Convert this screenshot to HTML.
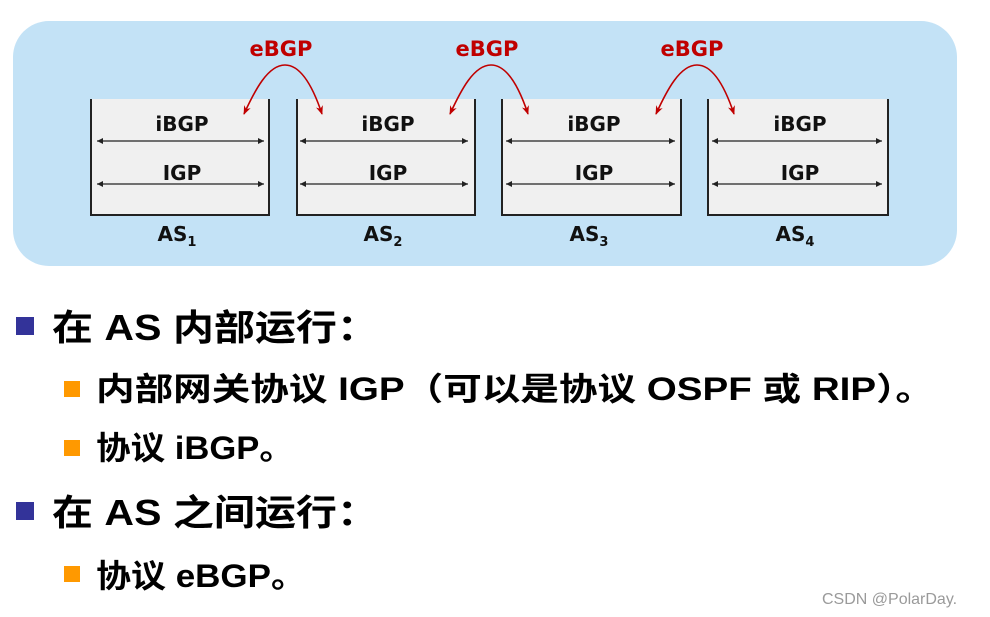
<!DOCTYPE html>
<html><head><meta charset="utf-8"><style>
html,body{margin:0;padding:0;background:#fff;width:990px;height:617px;overflow:hidden}
svg{display:block}
</style></head><body>
<svg width="990" height="617" viewBox="0 0 990 617" xmlns="http://www.w3.org/2000/svg">
<defs>
<marker id="ah" viewBox="0 0 10 10" refX="10" refY="5" markerWidth="8" markerHeight="6" orient="auto-start-reverse" markerUnits="userSpaceOnUse"><path d="M0,0 L10,5 L0,10 z" fill="#222"/></marker>
<marker id="rh" viewBox="0 0 10 10" refX="9" refY="5" markerWidth="9" markerHeight="9" orient="auto" markerUnits="userSpaceOnUse"><path d="M0,1 L10,5 L0,9 L3,5 z" fill="#c00000"/></marker>
</defs>
<rect x="13" y="21" width="944" height="245" rx="36" fill="#c3e2f6"/>
<g font-family="'DejaVu Sans','Liberation Sans',sans-serif" font-weight="bold" font-size="20" fill="#111" text-anchor="middle">
<g id="b1">
</g>
</g>
<!-- boxes -->
<g stroke="#222" stroke-width="2" fill="#f0f0f0">
<path d="M91,99 V215 H269 V99"/>
<path d="M297,99 V215 H475 V99"/>
<path d="M502,99 V215 H681 V99"/>
<path d="M708,99 V215 H888 V99"/>
</g>
<g stroke="#222" stroke-width="1.2" marker-start="url(#ah)" marker-end="url(#ah)">
<line x1="97" y1="141" x2="264" y2="141"/><line x1="97" y1="184" x2="264" y2="184"/>
<line x1="300" y1="141" x2="468" y2="141"/><line x1="300" y1="184" x2="468" y2="184"/>
<line x1="506" y1="141" x2="675" y2="141"/><line x1="506" y1="184" x2="675" y2="184"/>
<line x1="712" y1="141" x2="882" y2="141"/><line x1="712" y1="184" x2="882" y2="184"/>
</g>
<g font-family="'DejaVu Sans','Liberation Sans',sans-serif" font-weight="bold" font-size="20" fill="#111" text-anchor="middle">
<text x="182" y="131">iBGP</text><text x="182" y="180">IGP</text>
<text x="388" y="131">iBGP</text><text x="388" y="180">IGP</text>
<text x="594" y="131">iBGP</text><text x="594" y="180">IGP</text>
<text x="800" y="131">iBGP</text><text x="800" y="180">IGP</text>
<text x="177" y="241">AS<tspan font-size="13" dy="5">1</tspan></text>
<text x="383" y="241">AS<tspan font-size="13" dy="5">2</tspan></text>
<text x="589" y="241">AS<tspan font-size="13" dy="5">3</tspan></text>
<text x="795" y="241">AS<tspan font-size="13" dy="5">4</tspan></text>
</g>
<g fill="none" stroke="#c00000" stroke-width="1.6" marker-end="url(#rh)">
<path d="M285,65 C268,65 255,90 244,114"/><path d="M285,65 C302,65 314,90 322,114"/>
<path d="M491,65 C474,65 461,90 450,114"/><path d="M491,65 C508,65 520,90 528,114"/>
<path d="M697,65 C680,65 667,90 656,114"/><path d="M697,65 C714,65 726,90 734,114"/>
</g>
<g font-family="'DejaVu Sans','Liberation Sans',sans-serif" font-weight="bold" font-size="21" fill="#c00000" text-anchor="middle">
<text x="281" y="56">eBGP</text><text x="487" y="56">eBGP</text><text x="692" y="56">eBGP</text>
</g>
<!-- bullets -->
<rect x="16" y="317" width="18" height="18" fill="#333399"/>
<rect x="16" y="502" width="18" height="18" fill="#333399"/>
<rect x="64" y="381" width="16" height="16" fill="#ff9900"/>
<rect x="64" y="440" width="16" height="16" fill="#ff9900"/>
<rect x="64" y="566" width="16" height="16" fill="#ff9900"/>
<g font-family="'Liberation Sans','Noto Sans CJK SC',sans-serif" font-weight="bold" fill="#000">
<text x="52" y="340" font-size="36" textLength="326" lengthAdjust="spacingAndGlyphs">在 AS 内部运行：</text>
<text x="96" y="400" font-size="32" textLength="838" lengthAdjust="spacingAndGlyphs">内部网关协议 IGP（可以是协议 OSPF 或 RIP）。</text>
<text x="96" y="459" font-size="32" textLength="198" lengthAdjust="spacingAndGlyphs">协议 iBGP。</text>
<text x="52" y="525" font-size="36" textLength="326" lengthAdjust="spacingAndGlyphs">在 AS 之间运行：</text>
<text x="96" y="587" font-size="32" textLength="210" lengthAdjust="spacingAndGlyphs">协议 eBGP。</text>
</g>
<text x="822" y="604" font-family="'Liberation Sans',sans-serif" font-size="16" fill="#9a9a9a">CSDN @PolarDay.</text>
</svg>
</body></html>
